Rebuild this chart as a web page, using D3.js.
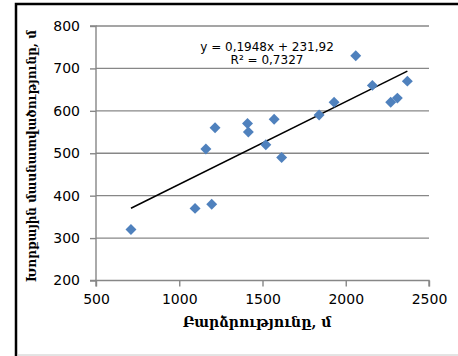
<!DOCTYPE html>
<html>
<head>
<meta charset="utf-8">
<script src="https://cdn.jsdelivr.net/npm/d3@7"></script>
<style>
  html, body { margin: 0; padding: 0; background: #fff; }
  svg { display: block; }
</style>
</head>
<body>
<svg id="chart" width="458" height="356"></svg>
<script>
// Altitude (m) and relief dissection depth (m) for each site
const altitude = [710, 1095, 1195, 1160, 1215, 1410, 1415, 1570, 1520, 1615, 1840, 1930, 2060, 2160, 2270, 2310, 2370];
const dissection = [320, 370, 380, 510, 560, 570, 550, 580, 520, 490, 590, 620, 730, 660, 620, 630, 670];

// Linear trend reported on the chart
const trendSlope = 0.1948;
const trendIntercept = 231.92;
const trendLabel = "y = 0,1948x + 231,92";
const r2Label = "R² = 0,7327";

const xTicks = [500, 1000, 1500, 2000, 2500];
const yTicks = [200, 300, 400, 500, 600, 700, 800];

const xTitle = "Բարձրությունը, մ";
const yTitle = "Խորքային մասնատվածությունը, մ";

const svg = d3.select("#chart");
const gridColor = "#878787";
const tickFont = "DejaVu Sans, Verdana, sans-serif";

const x = d3.scaleLinear().domain([500, 2500]).range([96, 429]);
const y = d3.scaleLinear().domain([200, 800]).range([280.5, 26]);

// Outer frame of the chart area
svg.append("path")
  .attr("d", "M16,362 V4 H470")
  .attr("fill", "none")
  .attr("stroke", "#000")
  .attr("stroke-width", 2.5);
svg.append("line")
  .attr("x1", 17).attr("x2", 458).attr("y1", 355).attr("y2", 355)
  .attr("stroke", "#c8c8c8").attr("stroke-width", 1);

// Horizontal gridlines
svg.append("g")
  .selectAll("line")
  .data(yTicks.filter(d => d > 200))
  .join("line")
  .attr("x1", x(500)).attr("x2", x(2500))
  .attr("y1", d => y(d)).attr("y2", d => y(d))
  .attr("stroke", gridColor).attr("stroke-width", 1.4);

// Y axis
const yAxis = svg.append("g")
  .attr("transform", `translate(${x(500)},0)`)
  .call(d3.axisLeft(y).tickValues(yTicks).tickSize(6).tickPadding(10).tickFormat(d3.format("d")));
// X axis
const xAxis = svg.append("g")
  .attr("transform", `translate(0,${y(200)})`)
  .call(d3.axisBottom(x).tickValues(xTicks).tickSize(6).tickPadding(8).tickFormat(d3.format("d")));

[yAxis, xAxis].forEach(g => {
  g.select(".domain").attr("stroke", gridColor).attr("stroke-width", 1.4);
  g.selectAll(".tick line").attr("stroke", gridColor).attr("stroke-width", 1.4);
  g.selectAll(".tick text")
    .attr("fill", "#000")
    .style("font-family", tickFont)
    .style("font-size", "14px");
});
xAxis.select(".domain").attr("d", `M${x(500)},6V0H${x(2500)}V6`);
yAxis.select(".domain").attr("d", `M-6,${y(800)}H0V${y(200)}H-6`);

// Trend line over the observed altitude range
const xMin = d3.min(altitude), xMax = d3.max(altitude);
svg.append("line")
  .attr("x1", x(xMin)).attr("y1", y(trendSlope * xMin + trendIntercept))
  .attr("x2", x(xMax)).attr("y2", y(trendSlope * xMax + trendIntercept))
  .attr("stroke", "#000").attr("stroke-width", 1.5);

// Data points as diamonds
svg.append("g")
  .selectAll("path")
  .data(altitude.map((a, i) => [a, dissection[i]]))
  .join("path")
  .attr("d", d3.symbol(d3.symbolSquare, 60))
  .attr("transform", d => `translate(${x(d[0])},${y(d[1])}) rotate(45)`)
  .attr("fill", "#4f81bd");

// Trend equation
svg.append("text")
  .attr("x", 267).attr("y", 51)
  .attr("text-anchor", "middle")
  .style("font-family", tickFont).style("font-size", "12px")
  .text(trendLabel);
svg.append("text")
  .attr("x", 267).attr("y", 63.5)
  .attr("text-anchor", "middle")
  .style("font-family", tickFont).style("font-size", "12px")
  .text(r2Label);

// Axis titles
svg.append("text")
  .attr("x", 257).attr("y", 327)
  .attr("text-anchor", "middle")
  .style("font-family", "DejaVu Serif, serif").style("font-weight", "bold").style("font-size", "14px")
  .text(xTitle);
svg.append("text")
  .attr("transform", "translate(35.5,156) rotate(-90)")
  .attr("text-anchor", "middle")
  .style("font-family", "DejaVu Serif, serif").style("font-weight", "bold").style("font-size", "12px")
  .text(yTitle);
</script>
</body>
</html>
